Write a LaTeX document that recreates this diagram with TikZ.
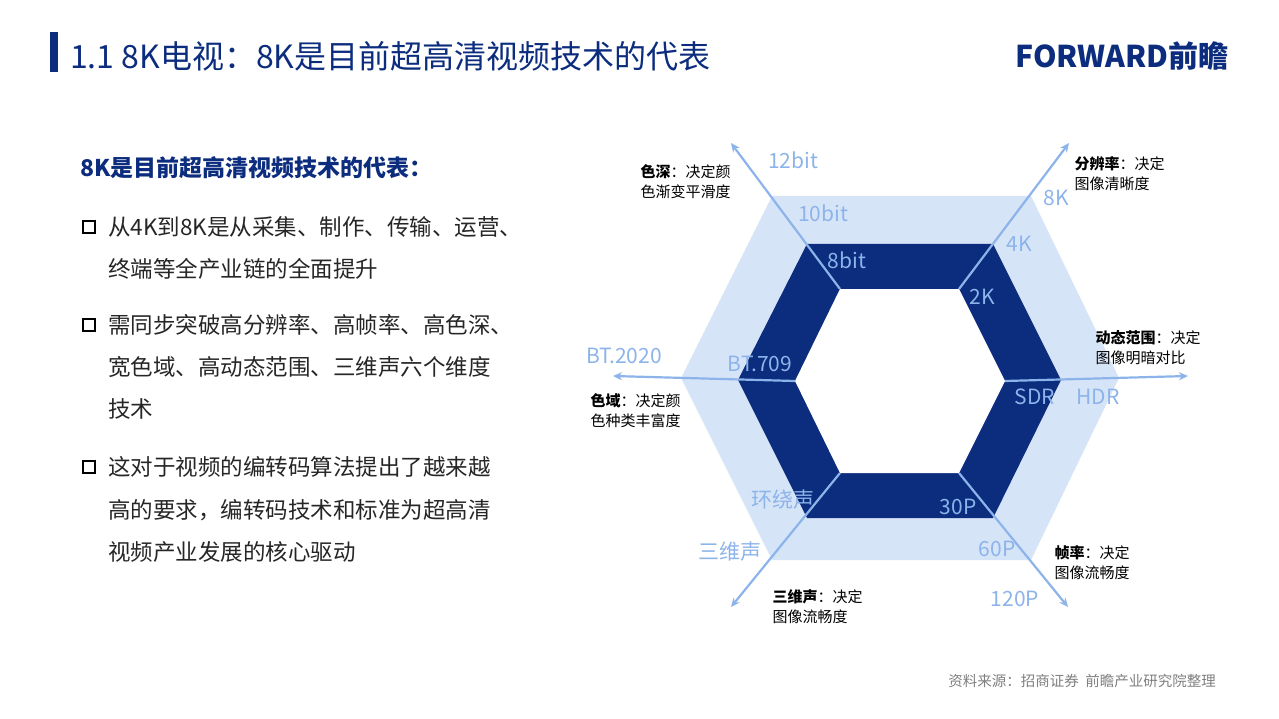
\documentclass[tikz,border=0pt]{standalone}
\usepackage{fontspec}
\setmainfont{Noto Sans CJK SC}
\usetikzlibrary{arrows.meta}
\definecolor{dk}{HTML}{0C2C7E}
\definecolor{lb}{HTML}{8DB4EA}
\definecolor{lf}{HTML}{D6E4F8}
\tikzset{ax/.style={draw=lb,line width=2.2pt,-{Stealth[length=9pt,width=8pt]}},
lab/.style={text=lb,font=\fontsize{21}{20}\selectfont},
ann/.style={anchor=west,align=left,font=\fontsize{15}{20}\selectfont,text=black},
bl/.style={anchor=west,font=\fontsize{22.5}{22}\selectfont,text=black!85},
sq/.style={draw=black,line width=1.8pt,minimum size=12pt,inner sep=0pt}}
\begin{document}
\begin{tikzpicture}[x=1pt,y=-1pt]
\useasboundingbox (0,0) rectangle (1279,719);
\fill[white] (0,0) rectangle (1279,719);
% header
\fill[dk] (50,32) rectangle (58,72);
\node[anchor=west,text=dk,font=\fontsize{32}{32}\selectfont,inner sep=0pt] (title) at (70,56) {1.1 8K电视：8K是目前超高清视频技术的代表};
\node[anchor=east,text=dk,font=\bfseries\fontsize{30}{30}\selectfont,inner sep=0pt] (logo) at (1229,56) {FORWARD前瞻};
% hexagons
\fill[lf] (772,196)--(1031,196)--(1119,378)--(1031,560)--(772,560)--(681,378)--cycle;
\fill[dk] (807,244)--(993,244)--(1061,380)--(993,518)--(807,518)--(738,380)--cycle;
\fill[white] (840,289)--(959,289)--(1005,381)--(959,473)--(840,473)--(795,381)--cycle;
\coordinate (i1) at (840,289); \coordinate (i2) at (959,289);
\coordinate (i3) at (795,381); \coordinate (i4) at (1005,381);
\coordinate (i5) at (840,473); \coordinate (i6) at (959,473);
\coordinate (t1) at (731,143); \coordinate (t2) at (1069,143);
\coordinate (t3) at (613,376); \coordinate (t4) at (1188,376);
\coordinate (t5) at (731,607); \coordinate (t6) at (1068,607);
\draw[ax] (i1)--(t1); \draw[ax] (i2)--(t2); \draw[ax] (i3)--(t3);
\draw[ax] (i4)--(t4); \draw[ax] (i5)--(t5); \draw[ax] (i6)--(t6);
% labels
\node[lab] (a1) at (793,160) {12bit};
\node[lab] (a2) at (823,213) {10bit};
\node[lab] (a3) at (847,260) {8bit};
\node[lab] (b1) at (1056,198) {8K};
\node[lab] (b2) at (1019,244) {4K};
\node[lab] (b3) at (982,297) {2K};
\node[lab] (c1) at (1098,397) {HDR};
\node[lab] (c2) at (1035,397) {SDR};
\node[lab] (d1) at (1015,599) {120P};
\node[lab] (d2) at (997,549) {60P};
\node[lab] (d3) at (958,507) {30P};
\node[lab] (e1) at (624,356) {BT.2020};
\node[lab] (e2) at (760,364) {BT.709};
\node[lab] (f1) at (730,552) {三维声};
\node[lab] (f2) at (783,500) {环绕声};
% annotations
\node[ann] (n1) at (637,182) {\textbf{色深}：决定颜\\色渐变平滑度};
\node[ann] (n2) at (1071,174) {\textbf{分辨率}：决定\\图像清晰度};
\node[ann] (n3) at (1092,348) {\textbf{动态范围}：决定\\图像明暗对比};
\node[ann] (n4) at (587,411) {\textbf{色域}：决定颜\\色种类丰富度};
\node[ann] (n5) at (1051,563) {\textbf{帧率}：决定\\图像流畅度};
\node[ann] (n6) at (769,607) {\textbf{三维声}：决定\\图像流畅度};
% left text
\node[anchor=west,text=dk,font=\bfseries\fontsize{23}{23}\selectfont,inner sep=0pt] (h) at (80,168) {8K是目前超高清视频技术的代表：};
\node[sq] (s1) at (89,227) {};
\node[sq] (s2) at (89,325) {};
\node[sq] (s3) at (89,467) {};
\node[bl,inner sep=0pt] (l1) at (108,227) {从4K到8K是从采集、制作、传输、运营、};
\node[bl,inner sep=0pt] (l2) at (108,269) {终端等全产业链的全面提升};
\node[bl,inner sep=0pt] (l3) at (108,325) {需同步突破高分辨率、高帧率、高色深、};
\node[bl,inner sep=0pt] (l4) at (108,367) {宽色域、高动态范围、三维声六个维度};
\node[bl,inner sep=0pt] (l5) at (108,409) {技术};
\node[bl,inner sep=0pt] (l6) at (108,467) {这对于视频的编转码算法提出了越来越};
\node[bl,inner sep=0pt] (l7) at (108,510) {高的要求，编转码技术和标准为超高清};
\node[bl,inner sep=0pt] (l8) at (108,552) {视频产业发展的核心驱动};
\node[anchor=east,text=black!50,font=\fontsize{14.5}{14}\selectfont,inner sep=0pt] (src) at (1216,681) {资料来源：招商证券\ \ 前瞻产业研究院整理};
\end{tikzpicture}
\end{document}
